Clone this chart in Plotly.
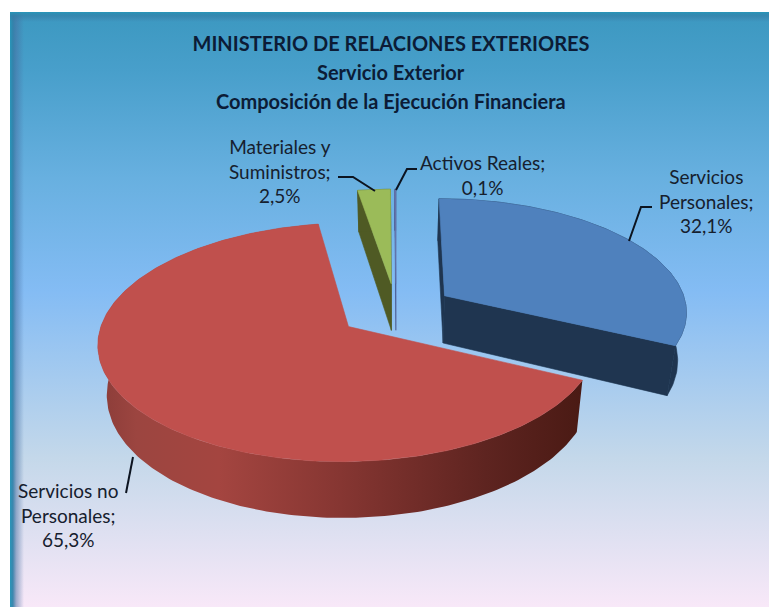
import numpy as np
import plotly.graph_objects as go

# ---------- data ----------
categories = ["Servicios Personales", "Servicios no Personales", "Materiales y Suministros", "Activos Reales"]
values = [32.1, 65.3, 2.5, 0.1]
value_labels = ["32,1%", "65,3%", "2,5%", "0,1%"]
label_lines = [["Servicios", "Personales;"], ["Servicios no", "Personales;"], ["Materiales y", "Suministros;"], ["Activos Reales;"]]
title_lines = ["MINISTERIO DE RELACIONES EXTERIORES", "Servicio Exterior", "Composición de la Ejecución Financiera"]

# ---------- styles / layout ----------
W, H = 769, 607
FONT = "Lato"
TOP = ["#4f81bd", "#c0504d", "#9bbb59", "#6a78b0"]
WALL = ["#1f3550", None, "#4f5a24", "#3f4a80"]
RED_WALL = [[0, "#8a3c38"], [0.08, "#9c4540"], [0.25, "#a44540"], [0.5, "#863632"], [0.8, "#5e2420"], [1, "#4a1a14"]]
CX, CY, RX, RY, PERSP, PULL, DEPTH, SHRINK = 396, 310, 243, 113, 7.76, 0.24, 48, 0.97
DRAW_ORDER = [0, 2, 3, 1]
LABEL_POS = [(706, 201), (68, 515), (280, 171), (482, 175)]
TITLE_X = 391
TITLE_Y = [44, 72, 101]
LEADERS = [
    [(629, 241), (641, 207), (652, 207)],
    [(133, 457), (126, 493)],
    [(375, 191), (353, 177), (338, 177)],
    [(396, 190), (407, 169), (417, 169)],
]


def project(u, v, level):
    s = PERSP / (PERSP - v)
    x = u * RX * s
    y = v * RY * s
    if level:
        return CX + x * SHRINK, CY + y + DEPTH * s
    return CX + x, CY + y


def arc(a0, a1, du, dv, level):
    t = np.radians(np.linspace(a0, a1, max(int(abs(a1 - a0)) + 2, 2)))
    return project(np.sin(t) + du, -np.cos(t) + dv, level)


def poly(xs, ys, color, name, gradient=None, width=0.6):
    kw = dict(fillgradient=gradient) if gradient else dict(fillcolor=color)
    return go.Scatter(x=list(xs) + [xs[0]], y=list(ys) + [ys[0]], mode="lines", fill="toself",
                      line=dict(color=color or "rgba(0,0,0,0)", width=width), name=name,
                      hoverinfo="name", showlegend=False, **kw)


fig = go.Figure()

# background gradient panel
fig.add_trace(go.Scatter(x=[10, W, W, 10, 10], y=[12, 12, H, H, 12], mode="lines", fill="toself",
                         line=dict(width=0, color="rgba(0,0,0,0)"), hoverinfo="skip", showlegend=False,
                         fillgradient=dict(type="vertical", start=12, stop=H, colorscale=[
                             [0, "#3c98c0"], [0.1, "#489fcb"], [0.28, "#68b0e0"], [0.47, "#84bcf4"], [0.75, "#c4d8ea"], [1, "#f8e8f8"]])))
# panel edges
fig.add_trace(go.Scatter(x=[10, 24, 24, 10, 10], y=[12, 12, H, H, 12], mode="lines", fill="toself",
                         line=dict(width=0, color="rgba(0,0,0,0)"), hoverinfo="skip", showlegend=False,
                         fillgradient=dict(type="horizontal", start=10, stop=24, colorscale=[
                             [0, "rgba(40,150,185,1)"], [0.2, "rgba(50,130,170,0.95)"], [0.45, "rgba(70,110,160,0.5)"], [1, "rgba(70,110,160,0)"]])))
fig.add_trace(go.Scatter(x=[10, W, W, 10, 10], y=[12, 12, 22, 22, 12], mode="lines", fill="toself",
                         line=dict(width=0, color="rgba(0,0,0,0)"), hoverinfo="skip", showlegend=False,
                         fillgradient=dict(type="vertical", start=12, stop=22, colorscale=[
                             [0, "rgba(40,150,185,1)"], [0.4, "rgba(50,125,165,0.6)"], [1, "rgba(60,120,165,0)"]])))

# pie geometry from the values
edges = np.concatenate([[0], np.cumsum(values)]) / sum(values) * 360
for i in DRAW_ORDER:
    a0, a1 = edges[i], edges[i + 1]
    mid = np.radians((a0 + a1) / 2)
    du, dv = PULL * np.sin(mid), -PULL * np.cos(mid)
    name = categories[i]
    ax, ay = project(du, dv, 0)
    bx, by = project(du, dv, 1)
    tx, ty = arc(a0, a1, du, dv, 0)
    lx, ly = arc(a0, a1, du, dv, 1)
    if WALL[i]:
        for k in (0, -1):
            fig.add_trace(poly([ax, tx[k], lx[k], bx], [ay, ty[k], ly[k], by], WALL[i], name, width=0.3 if values[i] < 1 else 0.6))
        fig.add_trace(poly(list(tx) + list(lx[::-1]), list(ty) + list(ly[::-1]), WALL[i], name, width=0.3 if values[i] < 1 else 0.6))
    else:
        fig.add_trace(poly(list(tx) + list(lx[::-1]), list(ty) + list(ly[::-1]), None, name,
                           gradient=dict(type="horizontal", colorscale=RED_WALL), width=0))
    fig.add_trace(poly([ax] + list(tx), [ay] + list(ty), TOP[i], name, width=0.4 if values[i] < 1 else 0.6))

# leader lines
shapes = []
for pts in LEADERS:
    path = "M " + " L ".join(f"{x},{y}" for x, y in pts)
    shapes.append(dict(type="path", path=path, xref="x", yref="y", line=dict(color="#0c1420", width=2)))

# labels
annotations = []
for lines, val, (x, y) in zip(label_lines, value_labels, LABEL_POS):
    annotations.append(dict(x=x, y=y, xref="x", yref="y", text="<br>".join(lines + [val]), showarrow=False,
                            align="center", xanchor="center", yanchor="middle",
                            font=dict(family=FONT, size=19, color="#16202e")))
for line, y in zip(title_lines[1:], TITLE_Y[1:]):
    annotations.append(dict(x=TITLE_X, y=y, xref="x", yref="y", text=f"<b>{line}</b>", showarrow=False,
                            xanchor="center", yanchor="middle",
                            font=dict(family=FONT, size=20, color="#0c1c36")))

fig.update_layout(
    width=W, height=H, margin=dict(l=0, r=0, t=0, b=0), paper_bgcolor="white", plot_bgcolor="rgba(0,0,0,0)",
    title=dict(text=f"<b>{title_lines[0]}</b>", x=TITLE_X / W, xanchor="center",
               y=1 - TITLE_Y[0] / H, yanchor="middle", font=dict(family=FONT, size=20, color="#0c1c36")),
    xaxis=dict(range=[0, W], visible=False, fixedrange=True),
    yaxis=dict(range=[H, 0], visible=False, fixedrange=True),
    shapes=shapes, annotations=annotations, showlegend=False,
)
fig.write_html("out.html", config={"displayModeBar": False},
               post_script="document.body.style.margin='0';document.body.style.overflow='hidden';")
